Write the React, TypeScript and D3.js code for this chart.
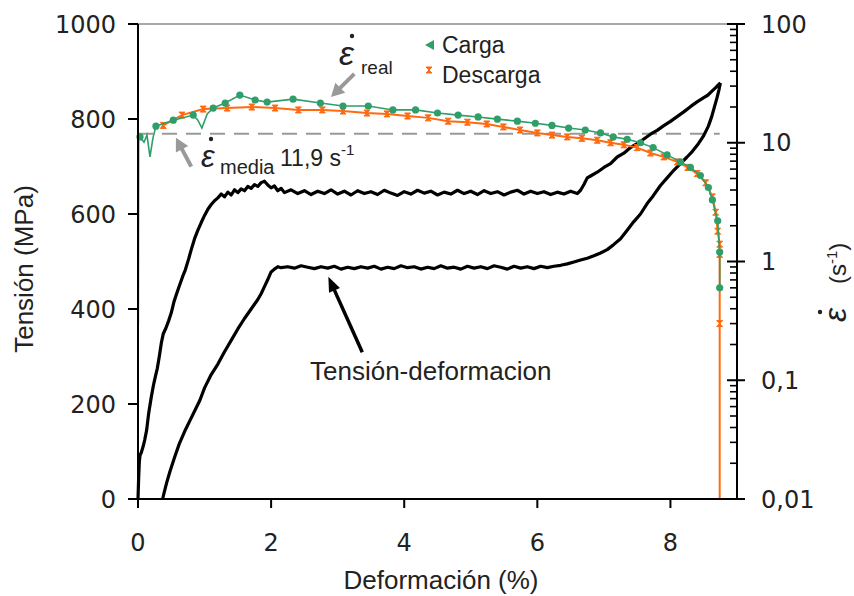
import React from 'react';
import * as d3 from 'd3';

const W = 854;
const H = 596;

const xTicks = [0, 2, 4, 6, 8];
const yLeftTicks = [0, 200, 400, 600, 800, 1000];
const yRightTicks = [0.01, 0.1, 1, 10, 100];
const yRightLabels = ['0,01', '0,1', '1', '10', '100'];
const legendLabels = ['Carga', 'Descarga'];
const strainMedia = 11.9;

// Tensión-deformación: loading branch
const loadStrain = [0, 0.01, 0.02, 0.03, 0.05, 0.08, 0.1, 0.13, 0.16, 0.2, 0.23, 0.26, 0.29, 0.32, 0.35, 0.38, 0.42, 0.46, 0.5, 0.54, 0.58, 0.63, 0.67, 0.71, 0.76, 0.8, 0.85, 0.9, 0.95, 1.0, 1.05, 1.1, 1.15, 1.2, 1.25, 1.3, 1.35, 1.4, 1.45, 1.5, 1.55, 1.6, 1.65, 1.7, 1.75, 1.8, 1.85, 1.9, 1.95, 2.0, 2.05, 2.1, 2.15, 2.2, 2.3, 2.4, 2.5, 2.6, 2.7, 2.8, 2.9, 3.0, 3.1, 3.2, 3.3, 3.4, 3.5, 3.6, 3.7, 3.8, 3.9, 4.0, 4.1, 4.2, 4.3, 4.4, 4.5, 4.6, 4.7, 4.8, 4.9, 5.0, 5.1, 5.2, 5.3, 5.4, 5.5, 5.6, 5.7, 5.8, 5.9, 6.0, 6.1, 6.2, 6.3, 6.4, 6.5, 6.6, 6.65, 6.7, 6.75, 6.8, 6.9, 7.0, 7.1, 7.2, 7.3, 7.4, 7.5, 7.6, 7.7, 7.8, 7.9, 8.0, 8.1, 8.2, 8.3, 8.4, 8.5, 8.56, 8.62, 8.68, 8.72, 8.75];
const loadStress = [0, 45, 78, 92, 98, 112, 124, 145, 180, 215, 238, 257, 275, 300, 328, 348, 360, 375, 392, 415, 432, 452, 468, 482, 505, 525, 548, 566, 582, 597, 610, 620, 628, 634, 642, 636, 646, 640, 651, 645, 653, 649, 658, 654, 662, 658, 666, 669, 661, 655, 659, 649, 654, 645, 651, 643, 649, 641, 648, 643, 651, 642, 648, 640, 649, 643, 647, 641, 650, 644, 639, 647, 642, 650, 644, 648, 640, 646, 642, 650, 643, 648, 641, 649, 643, 647, 640, 646, 650, 642, 648, 643, 647, 641, 646, 642, 648, 643, 650, 662, 676, 680, 688, 698, 706, 720, 728, 740, 748, 758, 768, 776, 786, 795, 805, 815, 826, 836, 845, 850, 858, 866, 872, 876];

// Tensión-deformación: unloading branch
const unloadStrain = [8.75, 8.73, 8.7, 8.66, 8.62, 8.57, 8.5, 8.42, 8.33, 8.25, 8.15, 8.05, 7.95, 7.85, 7.74, 7.65, 7.55, 7.45, 7.35, 7.25, 7.15, 7.05, 6.95, 6.85, 6.75, 6.65, 6.55, 6.45, 6.35, 6.25, 6.15, 6.05, 5.95, 5.85, 5.75, 5.65, 5.55, 5.45, 5.35, 5.25, 5.15, 5.05, 4.95, 4.85, 4.75, 4.65, 4.55, 4.45, 4.35, 4.25, 4.15, 4.05, 3.95, 3.85, 3.75, 3.65, 3.55, 3.45, 3.35, 3.25, 3.15, 3.05, 2.95, 2.85, 2.75, 2.65, 2.55, 2.45, 2.35, 2.25, 2.15, 2.1, 2.05, 2.0, 1.95, 1.9, 1.85, 1.8, 1.7, 1.6, 1.5, 1.4, 1.3, 1.2, 1.1, 1.0, 0.93, 0.86, 0.78, 0.7, 0.62, 0.55, 0.48, 0.43, 0.39, 0.37];
const unloadStress = [876, 862, 845, 825, 805, 785, 765, 748, 732, 720, 706, 692, 676, 660, 638, 622, 600, 584, 566, 548, 536, 525, 518, 512, 507, 503, 499, 495, 492, 490, 487, 490, 485, 489, 486, 490, 484, 488, 491, 485, 489, 486, 490, 484, 488, 486, 491, 485, 488, 484, 489, 487, 491, 485, 488, 484, 490, 486, 489, 485, 488, 484, 490, 486, 489, 485, 488, 491, 486, 489, 487, 489, 484, 478, 462, 447, 432, 420, 400, 380, 358, 334, 310, 284, 262, 234, 208, 188, 165, 142, 116, 88, 58, 34, 12, 0];

// Velocidad de deformación: Carga
const cargaStrain = [0.005, 0.01, 0.03, 0.09, 0.135, 0.18, 0.225, 0.27, 0.53, 0.83, 0.9, 0.96, 1.04, 1.13, 1.31, 1.53, 1.76, 1.94, 2.33, 2.74, 3.08, 3.46, 3.83, 4.17, 4.5, 4.81, 5.11, 5.4, 5.7, 5.97, 6.22, 6.47, 6.72, 6.95, 7.14, 7.35, 7.55, 7.74, 7.95, 8.15, 8.3, 8.45, 8.57, 8.63, 8.71, 8.74, 8.74];
const cargaRate = [0.3, 10.5, 11.2, 10.1, 11.6, 7.6, 11, 13.8, 15.5, 17.1, 15.5, 13.3, 17.5, 19.6, 21.6, 25.2, 22.9, 22, 23.3, 21.6, 20.4, 20.4, 18.9, 18.9, 17.8, 17.1, 16.5, 15.8, 15.2, 14.6, 14.0, 13.3, 12.8, 12.1, 11.2, 10.7, 10, 9.1, 7.9, 6.9, 6.2, 5.3, 4.2, 3.3, 2.2, 1.2, 0.6];
const cargaPlain = [0, 1, 3, 4, 5, 6, 10, 11, 12];

// Velocidad de deformación: Descarga
const descargaStrain = [0.35, 0.38, 0.66, 0.98, 1.34, 1.71, 2.06, 2.41, 2.77, 3.08, 3.44, 3.74, 4.05, 4.36, 4.66, 4.95, 5.24, 5.49, 5.74, 6.0, 6.22, 6.45, 6.67, 6.9, 7.1, 7.3, 7.5, 7.7, 7.9, 8.1, 8.26, 8.4, 8.53, 8.63, 8.68, 8.71, 8.74, 8.74, 8.74, 8.74];
const descargaRate = [13.3, 14, 17.1, 19.2, 19.6, 20, 19.6, 18.9, 18.9, 18.5, 17.8, 17.5, 16.8, 16.2, 15.2, 14.9, 14.4, 13.6, 12.8, 12.1, 11.6, 11.2, 10.9, 10.5, 10, 9.6, 9.1, 8.2, 7.6, 6.9, 6.2, 5.5, 4.6, 3.5, 2.6, 1.8, 1.4, 1.15, 0.3, 0.01];
const descargaPlain = [0, 39];

const GREEN = '#2f9e6a';
const ORANGE = '#ff6a10';
const GRAY = '#999999';
const SANS = '"Liberation Sans", Arial, sans-serif';
const NUM = '"DejaVu Sans", sans-serif';

function arrowPath(x1: number, y1: number, x2: number, y2: number, len: number, half: number) {
  const a = Math.atan2(y2 - y1, x2 - x1);
  const bx = x2 - len * Math.cos(a);
  const by = y2 - len * Math.sin(a);
  const px = -Math.sin(a) * half;
  const py = Math.cos(a) * half;
  return `M${x2},${y2}L${bx + px},${by + py}L${bx - px},${by - py}Z`;
}

export default function App() {
  const left = 138, right = 737, top = 24, bottom = 499;
  const x = d3.scaleLinear().domain([0, 9]).range([left, right]);
  const yL = d3.scaleLinear().domain([0, 1000]).range([bottom, top]);
  const yR = d3.scaleLog().domain([0.01, 100]).range([bottom, top]);

  const mkStress = (xs: number[], ys: number[]) =>
    d3.line<[number, number]>().x(d => x(d[0])).y(d => yL(d[1]))(xs.map((v, i) => [v, ys[i]] as [number, number])) || '';
  const mkRate = (xs: number[], ys: number[]) =>
    d3.line<[number, number]>().x(d => x(d[0])).y(d => yR(d[1]))(xs.map((v, i) => [v, ys[i]] as [number, number])) || '';

  const minorTicks: number[] = [];
  [0.01, 0.1, 1, 10].forEach(dec => {
    for (let k = 2; k <= 9; k++) minorTicks.push(dec * k);
  });

  // annotation anchors in data units
  const realTip = [x(2.9), yR(24.3)];
  const realTail = [x(3.25), yR(38)];
  const mediaTip = [x(0.57), yR(11.0)];
  const mediaTail = [x(0.8), yR(6.3)];
  const tdTip = [x(2.86), yL(468)];
  const tdTail = [x(3.37), yL(309)];

  const shorten = (t: number[], s: number[], d: number) => {
    const a = Math.atan2(t[1] - s[1], t[0] - s[0]);
    return [t[0] - d * Math.cos(a), t[1] - d * Math.sin(a)];
  };
  const realEnd = shorten(realTip, realTail, 10);
  const mediaEnd = shorten(mediaTip, mediaTail, 10);
  const tdEnd = shorten(tdTip, tdTail, 12);

  const bowtie = (cx: number, cy: number) =>
    `M${cx - 3},${cy - 3}L${cx + 3},${cy - 3}L${cx - 3},${cy + 3}L${cx + 3},${cy + 3}Z`;

  return (
    <svg width={W} height={H} style={{ position: 'absolute', left: 0, top: 0, background: '#fff' }}>
      <rect x={0} y={0} width={W} height={H} fill="#fff" />
      {/* top border */}
      <line x1={left} x2={right} y1={top} y2={top} stroke="#a8a8a8" strokeWidth={2} />

      {/* media dashed line */}
      <line x1={left} x2={x(8.74)} y1={yR(strainMedia)} y2={yR(strainMedia)} stroke={GRAY} strokeWidth={2} strokeDasharray="15,9" />

      {/* stress-strain loop */}
      <path d={mkStress(loadStrain, loadStress)} fill="none" stroke="#000" strokeWidth={3.2} strokeLinejoin="round" />
      <path d={mkStress(unloadStrain, unloadStress)} fill="none" stroke="#000" strokeWidth={3.2} strokeLinejoin="round" />

      {/* Descarga */}
      <path d={mkRate(descargaStrain, descargaRate)} fill="none" stroke={ORANGE} strokeWidth={2} />
      {descargaStrain.map((v, i) =>
        descargaPlain.includes(i) ? null : (
          <path key={'o' + i} d={bowtie(x(v), yR(descargaRate[i]))} fill={ORANGE} stroke={ORANGE} strokeWidth={1} />
        )
      )}

      {/* Carga */}
      <path d={mkRate(cargaStrain, cargaRate)} fill="none" stroke={GREEN} strokeWidth={1.6} />
      {cargaStrain.map((v, i) =>
        cargaPlain.includes(i) ? null : (
          <circle key={'g' + i} cx={x(v)} cy={yR(cargaRate[i])} r={3.6} fill={GREEN} />
        )
      )}

      {/* axes */}
      <line x1={left} x2={left} y1={top} y2={bottom} stroke="#000" strokeWidth={2} />
      <line x1={right} x2={right} y1={top} y2={bottom} stroke="#000" strokeWidth={2} />
      <line x1={left - 10} x2={right} y1={bottom} y2={bottom} stroke="#000" strokeWidth={2} />

      {yLeftTicks.map(t => (
        <g key={'yl' + t}>
          <line x1={left - 10} x2={left} y1={yL(t)} y2={yL(t)} stroke="#000" strokeWidth={2} />
          <text x={116} y={yL(t)} dy="0.36em" textAnchor="end" fontFamily={NUM} fontSize={24} fill="#222">{t}</text>
        </g>
      ))}
      {xTicks.map(t => (
        <g key={'x' + t}>
          <line x1={x(t)} x2={x(t)} y1={bottom} y2={bottom + 9} stroke="#000" strokeWidth={2} />
          <text x={x(t)} y={551} textAnchor="middle" fontFamily={NUM} fontSize={24} fill="#222">{t}</text>
        </g>
      ))}
      {yRightTicks.map((t, i) => (
        <g key={'yr' + t}>
          <line x1={right - 10} x2={right + 8} y1={yR(t)} y2={yR(t)} stroke="#000" strokeWidth={2} />
          <text x={761} y={yR(t)} dy="0.36em" textAnchor="start" fontFamily={NUM} fontSize={24} fill="#222">{yRightLabels[i]}</text>
        </g>
      ))}
      {minorTicks.map(t => (
        <line key={'m' + t} x1={right - 7} x2={right} y1={yR(t)} y2={yR(t)} stroke="#000" strokeWidth={1.6} />
      ))}

      {/* axis titles */}
      <text transform="translate(33,269) rotate(-90)" textAnchor="middle" fontFamily={SANS} fontSize={26} fill="#222">Tensión (MPa)</text>
      <text x={441} y={589} textAnchor="middle" fontFamily={SANS} fontSize={26} fill="#222">Deformación (%)</text>
      <g transform="translate(846,322) rotate(-90)">
        <text x={0} y={0} fontFamily={SANS} fontSize={32} fontStyle="italic" fill="#222">ε</text>
        <circle cx={10} cy={-26} r={2.2} fill="#222" />
        <text x={38} y={0} fontFamily={SANS} fontSize={24} fill="#222">
          (s<tspan fontSize={15} dy={-9}>-1</tspan><tspan dy={9}>)</tspan>
        </text>
      </g>

      {/* legend */}
      <path d={`M${425},${45}L${434},${40}L${434},${50}Z`} fill={GREEN} />
      <text x={442} y={53} fontFamily={SANS} fontSize={23} fill="#222">{legendLabels[0]}</text>
      <path d={bowtie(429, 70)} fill={ORANGE} stroke={ORANGE} strokeWidth={1} />
      <text x={442} y={83} fontFamily={SANS} fontSize={23} fill="#222">{legendLabels[1]}</text>

      {/* ε real annotation */}
      <text x={339} y={65} fontFamily={SANS} fontSize={34} fontStyle="italic" fill="#222">ε</text>
      <circle cx={352} cy={36} r={2.2} fill="#222" />
      <text x={361} y={74} fontFamily={SANS} fontSize={19} fill="#222">real</text>
      <line x1={realTail[0]} y1={realTail[1]} x2={realEnd[0]} y2={realEnd[1]} stroke={GRAY} strokeWidth={4} />
      <path d={arrowPath(realTail[0], realTail[1], realTip[0], realTip[1], 13, 7)} fill={GRAY} />

      {/* ε media annotation */}
      <text x={201} y={167} fontFamily={SANS} fontSize={31} fontStyle="italic" fill="#222">ε</text>
      <circle cx={211} cy={139} r={2.2} fill="#222" />
      <text x={220} y={174} fontFamily={SANS} fontSize={20} fill="#222">media</text>
      <text x={280} y={166} fontFamily={SANS} fontSize={23} fill="#222">
        11,9 s<tspan fontSize={15} dy={-11}>-1</tspan>
      </text>
      <line x1={mediaTail[0]} y1={mediaTail[1]} x2={mediaEnd[0]} y2={mediaEnd[1]} stroke={GRAY} strokeWidth={4} />
      <path d={arrowPath(mediaTail[0], mediaTail[1], mediaTip[0], mediaTip[1], 13, 7)} fill={GRAY} />

      {/* Tensión-deformación annotation */}
      <line x1={tdTail[0]} y1={tdTail[1]} x2={tdEnd[0]} y2={tdEnd[1]} stroke="#000" strokeWidth={3.5} />
      <path d={arrowPath(tdTail[0], tdTail[1], tdTip[0], tdTip[1], 15, 6)} fill="#000" />
      <text x={310} y={380} fontFamily={SANS} fontSize={26} fill="#222">Tensión-deformacion</text>
    </svg>
  );
}
